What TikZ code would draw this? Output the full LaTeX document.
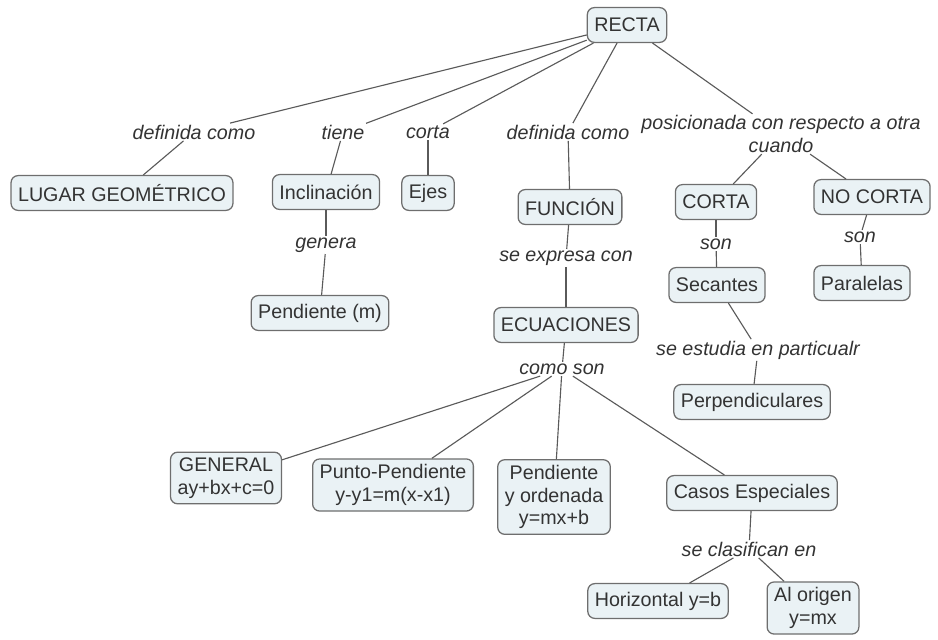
\documentclass[tikz,border=0pt]{standalone}
\usepackage{fontspec}
\setmainfont{Liberation Sans}
\definecolor{cajafondo}{HTML}{EAF2F5}
\definecolor{cajaborde}{HTML}{6E6E6E}
\definecolor{texto}{HTML}{333333}
\definecolor{linea}{HTML}{5A5A5A}

\tikzset{
  concepto/.style={draw=cajaborde, fill=cajafondo, rounded corners=5pt, line width=0.9pt,
    text=texto, font=\fontsize{14}{16}\selectfont, align=center,
    inner xsep=5pt, inner ysep=4pt, minimum height=0.87cm},
  enlace/.style={text=texto, font=\fontsize{14}{16}\selectfont\itshape, align=center,
    inner sep=1pt, fill=white},
  conector/.style={draw=linea, line width=0.8pt}
}

\begin{document}
\begin{tikzpicture}[x=0.025cm, y=-0.025cm]
\useasboundingbox (0,0) rectangle (938,639);

\node[concepto] (recta) at (627,25) {RECTA};

\node[enlace] (def1) at (194,132) {definida como};
\node[concepto] (lugar) at (122,193) {LUGAR GEOMÉTRICO};

\node[enlace] (tiene) at (343,132) {tiene};
\node[concepto] (inclinacion) at (326,192) {Inclinación};
\node[enlace] (genera) at (326,245) {genera};
\node[concepto] (pendiente) at (320,313) {Pendiente (m)};

\node[enlace] (corta) at (428,132) {corta};
\node[concepto] (ejes) at (428,193) {Ejes};

\node[enlace] (def2) at (568,132) {definida como};
\node[concepto] (funcion) at (570,207) {FUNCIÓN};
\node[enlace] (expresa) at (566,258) {se expresa con};
\node[concepto] (ecuaciones) at (566,325) {ECUACIONES};
\node[enlace] (comoson) at (562,369) {como son};

\node[concepto] (general) at (226,478) {GENERAL\\ay+bx+c=0};
\node[concepto] (puntopend) at (393,485) {Punto-Pendiente\\y-y1=m(x-x1)};
\node[concepto] (pendord) at (554,497) {Pendiente\\y ordenada\\y=mx+b};
\node[concepto] (casos) at (752,493) {Casos Especiales};
\node[enlace] (clasifican) at (749,549) {se clasifican en};
\node[concepto] (horizontal) at (658,601) {Horizontal y=b};
\node[concepto] (origen) at (813,608) {Al origen\\y=mx};

\node[enlace] (posicionada) at (781,134) {posicionada con respecto a otra\\cuando};
\node[concepto] (cortac) at (716,202) {CORTA};
\node[enlace] (son1) at (716,244) {son};
\node[concepto] (secantes) at (717,285) {Secantes};
\node[enlace] (estudia) at (758,350) {se estudia en particualr};
\node[concepto] (perpend) at (752,402) {Perpendiculares};
\node[concepto] (nocorta) at (872,197) {NO CORTA};
\node[enlace] (son2) at (860,237) {son};
\node[concepto] (paralelas) at (862,283) {Paralelas};

\draw[conector] (recta) -- (def1);
\draw[conector] (def1) -- (lugar);
\draw[conector] (recta) -- (tiene);
\draw[conector] (tiene) -- (inclinacion);
\draw[conector] (inclinacion) -- (genera);
\draw[conector] (genera) -- (pendiente);
\draw[conector] (recta) -- (corta);
\draw[conector] (corta) -- (ejes);
\draw[conector] (recta) -- (def2);
\draw[conector] (def2) -- (funcion);
\draw[conector] (funcion) -- (expresa);
\draw[conector] (expresa) -- (ecuaciones);
\draw[conector] (ecuaciones) -- (comoson);
\draw[conector] (comoson) -- (general);
\draw[conector] (comoson) -- (puntopend);
\draw[conector] (comoson) -- (pendord);
\draw[conector] (comoson) -- (casos);
\draw[conector] (casos) -- (clasifican);
\draw[conector] (clasifican) -- (horizontal);
\draw[conector] (clasifican) -- (origen);
\draw[conector] (recta) -- (posicionada);
\draw[conector] (posicionada) -- (cortac);
\draw[conector] (posicionada) -- (nocorta);
\draw[conector] (cortac) -- (son1);
\draw[conector] (son1) -- (secantes);
\draw[conector] (secantes) -- (estudia);
\draw[conector] (estudia) -- (perpend);
\draw[conector] (nocorta) -- (son2);
\draw[conector] (son2) -- (paralelas);

\end{tikzpicture}
\end{document}
